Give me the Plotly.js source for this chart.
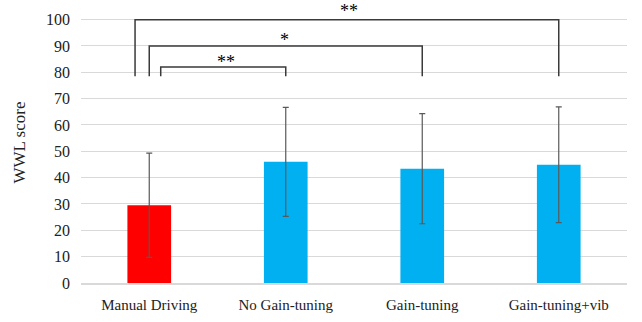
<!DOCTYPE html>
<html><head><meta charset="utf-8">
<script src="https://cdn.plot.ly/plotly-3.0.1.min.js"></script>
<style>html,body{margin:0;padding:0;background:#fff}#c{width:642px;height:322px}</style>
</head><body><div id="c"></div>
<script>
const categories = ["Manual Driving", "No Gain-tuning", "Gain-tuning", "Gain-tuning+vib"];
const means = [29.5, 46.0, 43.4, 44.9];
const errors = [19.8, 20.7, 20.9, 22.0];
const barColors = ["#FF0000", "#00B0F0", "#00B0F0", "#00B0F0"];
const yTicks = [0, 10, 20, 30, 40, 50, 60, 70, 80, 90, 100];
// significance brackets: [x-left, x-right, bracket height, leg bottom, label]
const brackets = [
  {x0: -0.104, x1: 3, y: 100, base: 78.5, label: "**", lx: 1.46, ly: 103.4},
  {x0: 0, x1: 2, y: 90, base: 78.5, label: "*", lx: 0.99, ly: 92.2},
  {x0: 0.084, x1: 1, y: 82, base: 78.5, label: "**", lx: 0.56, ly: 84.0}
];

const shapes = [];
const annotations = [];
brackets.forEach(b => {
  shapes.push({type: "path", xref: "x", yref: "y",
    path: `M ${b.x0} ${b.base} L ${b.x0} ${b.y} L ${b.x1} ${b.y} L ${b.x1} ${b.base}`,
    line: {color: "#3a3a3a", width: 1.5}});
  annotations.push({x: b.lx, y: b.ly, xref: "x", yref: "y", text: b.label, showarrow: false,
    borderpad: 0, font: {family: "Liberation Serif", size: 18, color: "#000"}});
});

const trace = {
  type: "bar",
  x: categories.map((c, i) => i),
  y: means,
  marker: {color: barColors},
  error_y: {type: "data", array: errors, visible: true, color: "#595959", thickness: 1.2, width: 3},
  width: 0.32,
  hoverinfo: "none"
};

const layout = {
  width: 642, height: 322,
  margin: {l: 81, r: 15, t: 2, b: 39},
  paper_bgcolor: "#fff", plot_bgcolor: "#fff",
  showlegend: false,
  xaxis: {
    range: [-0.5, 3.5], tickvals: [0, 1, 2, 3], ticktext: categories,
    showgrid: false, zeroline: false, showline: true, linecolor: "#d9d9d9", linewidth: 2,
    ticks: "", ticklabelstandoff: 7,
    tickfont: {family: "Liberation Serif", size: 15, color: "#222"}
  },
  yaxis: {
    range: [0, 106.7], tickvals: yTicks, ticktext: yTicks.map(String),
    showgrid: true, gridcolor: "#d9d9d9", gridwidth: 1, zeroline: false, showline: false,
    ticks: "", ticklabelstandoff: 10,
    tickfont: {family: "Liberation Serif", size: 16, color: "#222"},
    title: {text: "WWL score", font: {family: "Liberation Serif", size: 17, color: "#222"}, standoff: 16}
  },
  shapes: shapes,
  annotations: annotations
};

Plotly.newPlot("c", [trace], layout, {staticPlot: true, displayModeBar: false});
</script>
</body></html>
